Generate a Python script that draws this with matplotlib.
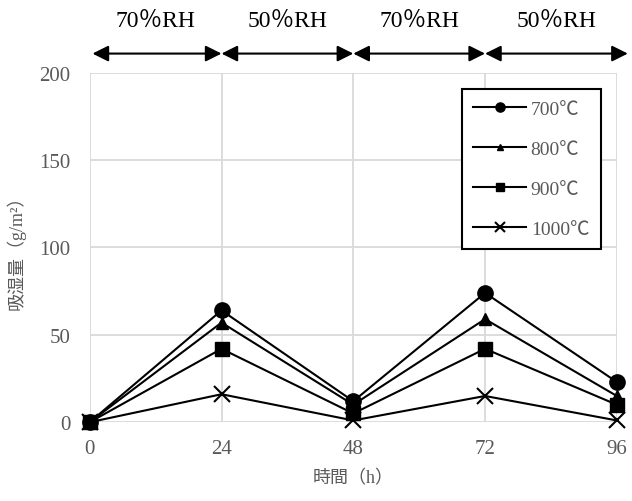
import matplotlib
matplotlib.use("Agg")
import matplotlib.pyplot as plt

plt.rcParams['font.family'] = ['Liberation Serif', 'Noto Sans CJK JP', 'DejaVu Serif']

hours = [0, 24, 48, 72, 96]
series_labels = ['700℃', '800℃', '900℃', '1000℃']
series_values = [
    [0, 64, 12, 74, 23],
    [0, 57, 10, 59, 15],
    [0, 42, 5, 42, 10],
    [0, 16, 1, 15, 1],
]
markers = ['o', '^', 's', 'x']
marker_sizes = [11, 8, 10, 11]
humidity_labels = ['70％RH', '50％RH', '70％RH', '50％RH']
x_ticks = [0, 24, 48, 72, 96]
y_ticks = [0, 50, 100, 150, 200]

gray = '#595959'

fig = plt.figure(figsize=(6.32, 5.02), dpi=100)
ax = fig.add_axes([0.142, 0.157, 0.834, 0.696])

for vals, lab, m, ms in zip(series_values, series_labels, markers, marker_sizes):
    kw = dict(color='black', lw=1.5, marker=m, markersize=ms, label=lab, clip_on=False, zorder=3)
    if m == 'x':
        kw['markeredgewidth'] = 1.5
    ax.plot(hours, vals, **kw)

ax.set_xlim(0, 96)
ax.set_ylim(0, 200)
ax.set_xticks(x_ticks)
ax.set_yticks(y_ticks)
ax.tick_params(axis='x', length=0, labelsize=15, labelcolor=gray, pad=12)
ax.tick_params(axis='y', length=0, labelsize=15, labelcolor=gray, pad=14)
ax.grid(True, color='#d9d9d9', lw=1.3)
ax.set_axisbelow(True)
for s in ax.spines.values():
    s.set_visible(False)

ax.set_xlabel('時間（h）', fontsize=13, color=gray, labelpad=8)
ax.set_ylabel('吸湿量（g/m²）', fontsize=13, color=gray, labelpad=10)

leg = ax.legend(loc='upper right', bbox_to_anchor=(0.97, 0.955), fontsize=14,
                frameon=True, fancybox=False, edgecolor='black', framealpha=1,
                handlelength=2.7, markerscale=0.6,
                labelspacing=1.15, borderpad=0.6, handletextpad=0.25,
                borderaxespad=0, labelcolor=gray)
leg.get_frame().set_linewidth(1.5)

# humidity phases above the plot
for i, txt in enumerate(humidity_labels):
    x0, x1 = hours[i], hours[i + 1]
    ax.annotate('', xy=(x1 + (2 if i == 3 else 0), 1.055), xytext=(x0 + (0.5 if i == 0 else 0), 1.055),
                xycoords=('data', 'axes fraction'), textcoords=('data', 'axes fraction'),
                arrowprops=dict(arrowstyle='<|-|>', color='black', lw=1.5, mutation_scale=24,
                                shrinkA=0, shrinkB=0), annotation_clip=False)
    ax.text((x0 + x1) / 2 + (1 if i == 3 else 0), 1.15, txt, transform=ax.get_xaxis_transform(),
            ha='center', va='center', fontsize=17, color='black')

fig.savefig('out.png', dpi=100)
